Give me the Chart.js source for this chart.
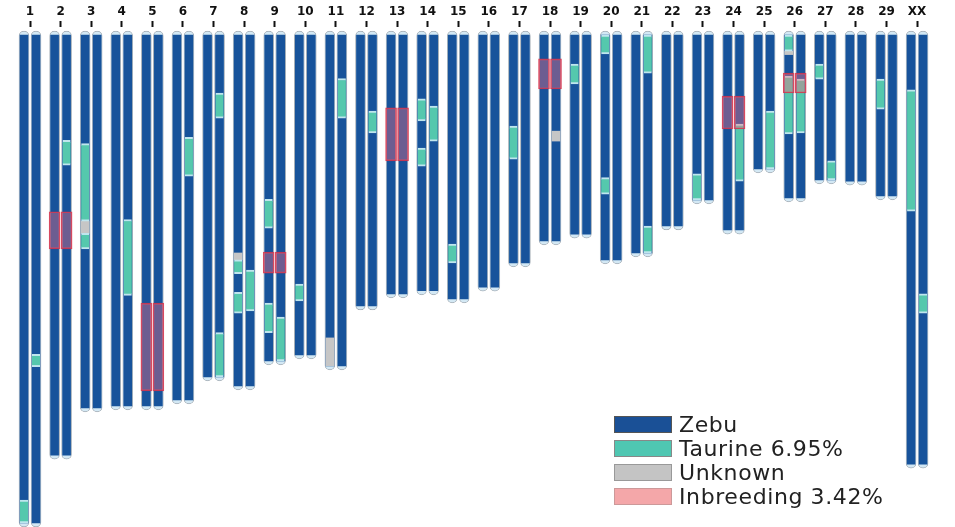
<!DOCTYPE html>
<html lang="en">
<head>
    <meta charset="UTF-8">
    <title>Chromosome painting</title>
    <script src="https://cdn.jsdelivr.net/npm/chart.js"></script>
    <style>
        body { margin: 0; background: #fff; }
        #wrap { position: relative; width: 955px; height: 527px; }
        #legend { position: absolute; left: 614px; top: 412px; font-family: 'DejaVu Sans', sans-serif; font-size: 22px; letter-spacing: 0.6px; color: #222; }
        .row { height: 24px; display: flex; align-items: center; }
        .sw { width: 56px; height: 15px; border: 1px solid #888; margin-right: 7px; }
    </style>
</head>
<body>
<div id="wrap">
    <canvas id="chromChart"></canvas>
    <div id="legend"></div>
</div>
<script>
    const chromosomes = ['1','2','3','4','5','6','7','8','9','10','11','12','13','14','15',
                         '16','17','18','19','20','21','22','23','24','25','26','27','28','29','XX'];
    // length of each chromosome (Mb)
    const lengthsMb = [157.4, 135.5, 120.3, 119.6, 119.6, 117.7, 110.3, 113.2, 105.1, 103.2,
                       106.7, 87.4, 83.5, 82.5, 85.1, 81.3, 73.5, 66.4, 64.2, 72.5,
                       70.3, 61.6, 53.2, 62.9, 43.2, 52.5, 46.7, 47.1, 51.9, 138.4];
    // [chromosome, homolog (0 = left, 1 = right), start Mb, end Mb]
    const taurineSegments = [
        ['1',0,150,157.4], ['1',1,103,107],
        ['2',1,34,42],
        ['3',0,35,60], ['3',0,64,69],
        ['4',1,59.5,84],
        ['6',1,33,45.5],
        ['7',1,18.7,26.8], ['7',1,96,110.3],
        ['8',0,72.5,77], ['8',0,83,89.7], ['8',1,75.8,89],
        ['9',0,53,62.3], ['9',0,86.5,96], ['9',1,91,105.1],
        ['10',0,80.3,85.8],
        ['11',1,14,26.8],
        ['12',1,24.5,31.6],
        ['14',0,20.6,27.7], ['14',0,36.5,42.3], ['14',1,22.9,34.2],
        ['15',0,67.4,73.5],
        ['17',0,29.4,40],
        ['19',0,9.4,15.8],
        ['20',0,0,6.1], ['20',0,46,51.3],
        ['21',1,0,12.3], ['21',1,61.6,70.3],
        ['23',0,44.8,53.2],
        ['24',1,28.7,47.1],
        ['25',1,24.5,43.2],
        ['26',0,0,5.2], ['26',0,13.2,31.9], ['26',1,14.2,31.6],
        ['27',0,9.4,14.2], ['27',1,40.6,46.7],
        ['29',0,14.2,23.9],
        ['XX',0,17.7,56.8], ['XX',1,83.5,89.7]
    ];
    const unknownSegments = [
        ['3',0,60,64], ['8',0,70.3,72.5], ['11',0,97.7,106.7], ['18',1,31,34.2], ['26',0,5.2,6.3]
    ];
    // [chromosome, start Mb, end Mb] - covers both homologs
    const inbreedingSegments = [
        ['2',57,69], ['5',86.5,114.8], ['9',70,76.8], ['13',23.5,40.6],
        ['18',7.7,17.4], ['24',19.7,30.3], ['26',12.3,18.7]
    ];
    const legendItems = ['Zebu', 'Taurine 6.95%', 'Unknown', 'Inbreeding 3.42%'];

    const colZebu = '#17539b';
    const colTaurine = '#55c8ad';
    const colUnknown = '#c6c6c6';
    const HOM_OFF = 0.196;

    function xPos(chr, hom) {
        return chromosomes.indexOf(chr) + 1 + (hom ? HOM_OFF : -HOM_OFF);
    }

    const outlineData = [], zebuData = [];
    chromosomes.forEach((c, i) => {
        [0, 1].forEach(h => {
            outlineData.push({ x: xPos(c, h), y: [-1.3, lengthsMb[i] + 1.3] });
            zebuData.push({ x: xPos(c, h), y: [0, lengthsMb[i]] });
        });
    });
    const taurineData = taurineSegments.map(s => ({ x: xPos(s[0], s[1]), y: [s[2], s[3]] }));
    const unknownData = unknownSegments.map(s => ({ x: xPos(s[0], s[1]), y: [s[2], s[3]] }));
    const inbreedingData = [];
    inbreedingSegments.forEach(s => {
        inbreedingData.push({ x: xPos(s[0], 0), y: [s[1], s[2]] });
        inbreedingData.push({ x: xPos(s[0], 1), y: [s[1], s[2]] });
    });

    const ctx = document.getElementById('chromChart').getContext('2d');
    new Chart(ctx, {
        type: 'bar',
        data: {
            datasets: [
                { label: 'cap', data: outlineData, order: 5, barThickness: 10,
                  backgroundColor: '#d3e8f4', borderColor: '#a7b0b8', borderWidth: 1,
                  borderRadius: 5, borderSkipped: false },
                { label: 'Zebu', data: zebuData, order: 4, barThickness: 8,
                  backgroundColor: colZebu, borderWidth: 0 },
                { label: 'Unknown', data: unknownData, order: 3, barThickness: 8,
                  backgroundColor: colUnknown, borderWidth: 0 },
                { label: 'Taurine', data: taurineData, order: 2, barThickness: 8,
                  backgroundColor: colTaurine, borderColor: '#bfe6ee',
                  borderWidth: { top: 2, bottom: 2, left: 0, right: 0 }, borderSkipped: false },
                { label: 'Inbreeding', data: inbreedingData, order: 1, barThickness: 11,
                  backgroundColor: 'rgba(240,110,130,0.4)', borderColor: 'rgba(215,45,70,0.85)',
                  borderWidth: 1, borderSkipped: false }
            ]
        },
        options: {
            responsive: true,
            maintainAspectRatio: false,
            animation: false,
            layout: { padding: 0 },
            datasets: { bar: { grouped: false } },
            scales: {
                x: {
                    type: 'linear',
                    position: 'top',
                    min: 0.019,
                    max: 31.24,
                    offset: false,
                    afterBuildTicks: s => { s.ticks = chromosomes.map((c, i) => ({ value: i + 1 })); },
                    afterFit: s => { s.height = 27; },
                    border: { display: false },
                    grid: { drawOnChartArea: false, offset: false, tickLength: 6, tickWidth: 2, tickColor: '#111' },
                    ticks: {
                        autoSkip: false,
                        maxRotation: 0,
                        padding: 2,
                        color: '#111',
                        font: { family: 'DejaVu Sans', size: 12, weight: 'bold' },
                        callback: v => chromosomes[Math.round(v) - 1] || ''
                    }
                },
                y: {
                    display: false,
                    reverse: true,
                    min: -2.6,
                    max: 158.7
                }
            },
            plugins: {
                legend: { display: false },
                tooltip: { enabled: false }
            }
        }
    });

    // legend drawn in html, bottom right like the original figure
    const swatches = [
        { bg: '#1a5096', bd: '#555' },
        { bg: '#4fc7b2', bd: '#888' },
        { bg: '#c4c4c4', bd: '#999' },
        { bg: '#f4a7a9', bd: '#c99' }
    ];
    const legendEl = document.getElementById('legend');
    legendItems.forEach((txt, i) => {
        const row = document.createElement('div');
        row.className = 'row';
        const sw = document.createElement('div');
        sw.className = 'sw';
        sw.style.background = swatches[i].bg;
        sw.style.borderColor = swatches[i].bd;
        const t = document.createElement('span');
        t.textContent = txt;
        row.appendChild(sw);
        row.appendChild(t);
        legendEl.appendChild(row);
    });
</script>
</body>
</html>
